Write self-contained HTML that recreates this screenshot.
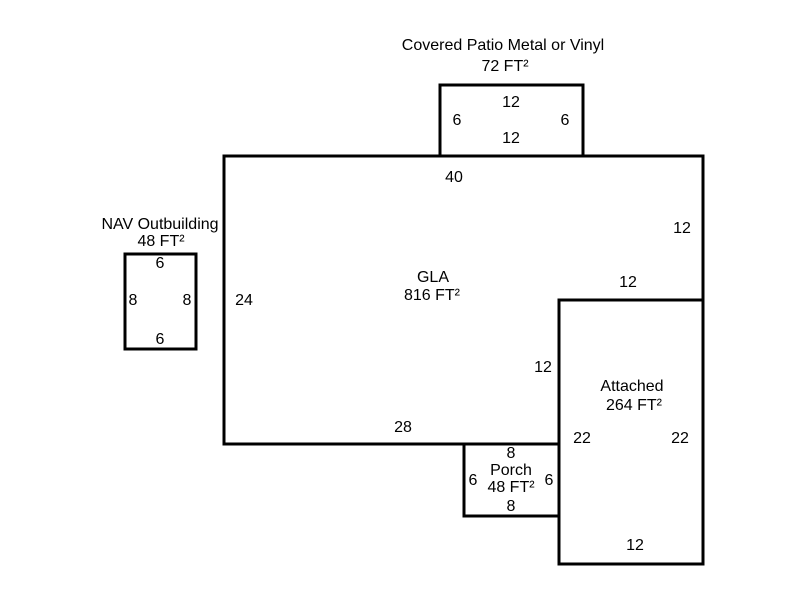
<!DOCTYPE html>
<html><head><style>body{margin:0;background:#fff}svg{display:block}text{font-family:"Liberation Sans",Arial,sans-serif;font-size:16px;fill:#000;text-anchor:middle}</style></head>
<body>
<svg width="800" height="600" xmlns="http://www.w3.org/2000/svg">
<g fill="none" stroke="#000" stroke-width="3">
<rect x="440" y="85" width="143" height="71"/>
<polygon points="224,156 703,156 703,300 559,300 559,444 224,444"/>
<rect x="559" y="300" width="144" height="264"/>
<rect x="464" y="444" width="95" height="72"/>
<rect x="125" y="254" width="71" height="95"/>
</g>
<text x="503" y="50">Covered Patio Metal or Vinyl</text>
<text x="505" y="71">72 FT²</text>
<text x="511" y="107">12</text>
<text x="457" y="125">6</text>
<text x="565" y="125">6</text>
<text x="511" y="143">12</text>
<text x="454" y="182">40</text>
<text x="682" y="233">12</text>
<text x="628" y="287">12</text>
<text x="160" y="229">NAV Outbuilding</text>
<text x="161" y="246">48 FT²</text>
<text x="160" y="268">6</text>
<text x="133" y="305">8</text>
<text x="187" y="305">8</text>
<text x="160" y="344">6</text>
<text x="244" y="305">24</text>
<text x="433" y="282">GLA</text>
<text x="432" y="300">816 FT²</text>
<text x="543" y="372">12</text>
<text x="632" y="391">Attached</text>
<text x="634" y="410">264 FT²</text>
<text x="582" y="443">22</text>
<text x="680" y="443">22</text>
<text x="403" y="432">28</text>
<text x="511" y="458">8</text>
<text x="511" y="475">Porch</text>
<text x="511" y="492">48 FT²</text>
<text x="473" y="485">6</text>
<text x="549" y="485">6</text>
<text x="511" y="511">8</text>
<text x="635" y="550">12</text>
</svg>
</body></html>
